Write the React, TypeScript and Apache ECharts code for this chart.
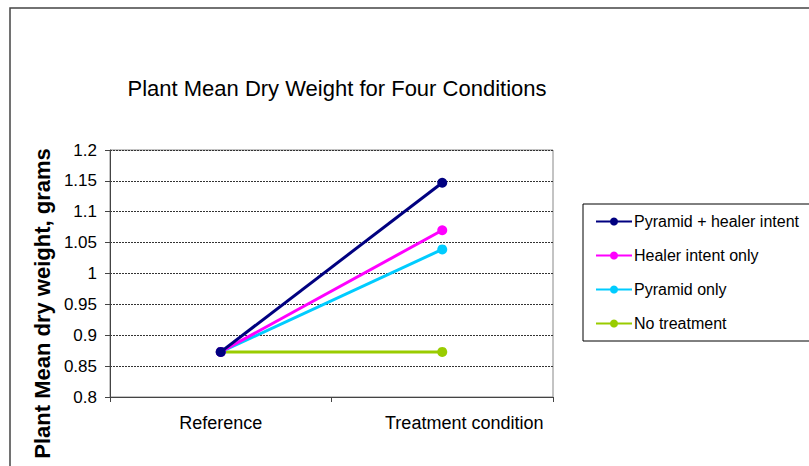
import React, { useEffect, useRef } from "react";
import * as echarts from "echarts";

const categories = ["Reference", "Treatment condition"];
const seriesNames = ["Pyramid + healer intent", "Healer intent only", "Pyramid only", "No treatment"];
const pyramidHealer = [0.873, 1.147];
const healerOnly = [0.873, 1.07];
const pyramidOnly = [0.873, 1.039];
const noTreatment = [0.873, 0.873];
const seriesColors = ["#000080", "#FF00FF", "#00CCFF", "#99CC00"];
const yTicks = { min: 0.8, max: 1.2, step: 0.05 };

const FONT = "'Liberation Sans', Arial, sans-serif";

export default function App() {
  const ref = useRef<HTMLDivElement>(null);
  useEffect(() => {
    if (!ref.current) return;
    const chart = echarts.init(ref.current, undefined, { renderer: "svg" });
    const values = [pyramidHealer, healerOnly, pyramidOnly, noTreatment];
    chart.setOption({
      animation: false,
      backgroundColor: "#fff",
      textStyle: { fontFamily: FONT },
      title: {
        text: "Plant Mean Dry Weight for Four Conditions",
        left: 332,
        textAlign: "center",
        top: 72,
        textStyle: { fontFamily: FONT, fontSize: 22, fontWeight: "normal", color: "#000" },
      },
      graphic: [
        {
          type: "rect",
          shape: { x: 10, y: 8, width: 830, height: 500 },
          style: { fill: "none", stroke: "#444", lineWidth: 1.5 },
          silent: true,
          z: -1,
        },
      ],
      grid: {
        left: 110,
        top: 150,
        right: 256,
        bottom: 69,
        show: true,
        borderColor: "#888",
        borderWidth: 1,
        backgroundColor: "#fff",
      },
      legend: {
        orient: "vertical",
        left: 583,
        top: 204,
        data: seriesNames,
        borderColor: "#000",
        borderWidth: 1,
        padding: [9, 30, 9, 12],
        itemGap: 17,
        itemWidth: 36,
        itemHeight: 10,
        textStyle: { fontFamily: FONT, fontSize: 16, color: "#000", lineHeight: 17, padding: [0, 0, 0, -3] },
      },
      xAxis: {
        type: "category",
        data: categories,
        boundaryGap: true,
        axisLine: { lineStyle: { color: "#444", width: 1 } },
        axisTick: { show: true, inside: false, length: 5, lineStyle: { color: "#444" } },
        axisLabel: {
          interval: 0,
          hideOverlap: false,
          fontFamily: FONT,
          fontSize: 18,
          color: "#000",
          margin: 17,
          formatter: (v: string, idx: number) => (idx === 1 ? `{s|${v}}` : v),
          rich: { s: { fontFamily: FONT, fontSize: 18, color: "#000", padding: [0, 0, 0, 44] } },
        },
        splitLine: { show: false },
      },
      yAxis: {
        type: "value",
        min: yTicks.min,
        max: yTicks.max,
        interval: yTicks.step,
        name: "Plant Mean dry weight, grams",
        nameLocation: "middle",
        nameRotate: 90,
        nameGap: 57,
        nameTextStyle: {
          fontFamily: FONT,
          fontSize: 22,
          fontWeight: "bold",
          color: "#000",
          padding: [0, 60, 0, 0],
        },
        axisLine: { show: true, lineStyle: { color: "#444", width: 1 } },
        axisTick: { show: true, inside: false, length: 5, lineStyle: { color: "#444" } },
        axisLabel: {
          fontFamily: FONT,
          fontSize: 17,
          color: "#000",
          margin: 13,
          formatter: (v: number) => String(parseFloat(v.toFixed(2))),
        },
        splitLine: { show: true, lineStyle: { color: "#333", type: [2, 1], width: 1 } },
      },
      series: seriesNames.map((name, i) => ({
        name,
        type: "line",
        data: values[i],
        symbol: "circle",
        symbolSize: 10,
        color: seriesColors[i],
        lineStyle: { width: 3, color: seriesColors[i] },
        itemStyle: { color: seriesColors[i] },
        z: 10 - i,
      })),
    });
    return () => chart.dispose();
  }, []);
  return (
    <div
      ref={ref}
      style={{ position: "fixed", left: 0, top: 0, width: 809, height: 466 }}
    />
  );
}
